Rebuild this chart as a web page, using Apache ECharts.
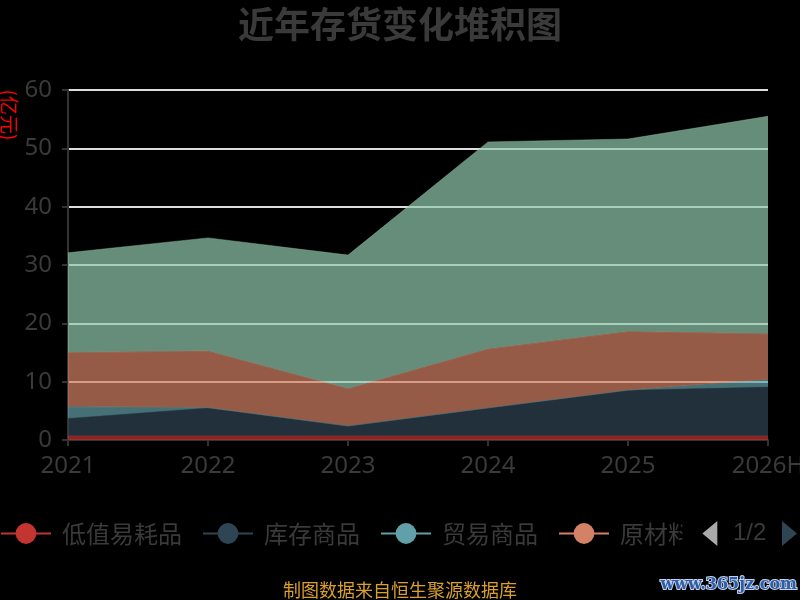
<!DOCTYPE html>
<html>
<head>
<meta charset="utf-8">
<script src="https://cdn.jsdelivr.net/npm/echarts@6/dist/echarts.min.js"></script>
<style>
  html, body { margin: 0; padding: 0; background: #000; }
  #chart { width: 800px; height: 600px; }
</style>
</head>
<body>
<div id="chart"></div>
<script>
// years on the x axis
var years = ['2021', '2022', '2023', '2024', '2025', '2026H'];

// stacked inventory components, 亿元
var seriesNames = ['低值易耗品', '库存商品', '贸易商品', '原材料', '其他'];
var lowValue   = [0.7, 0.7, 0.7, 0.7, 0.7, 0.7];
var stockGoods = [3.0, 4.8, 1.7, 4.8, 7.85, 8.4];
var tradeGoods = [2.0, 0.05, 0, 0, 0, 1.25];
var rawMat     = [9.3, 9.7, 6.4, 10.1, 10.05, 7.85];
var others     = [17.1, 19.4, 22.9, 35.5, 33.0, 37.3];

var colors = ['#c23531', '#2f4554', '#61a0a8', '#d48265', '#91c7ae'];
var txt = '#3a3a3a';

var chart = echarts.init(document.getElementById('chart'));

function makeSeries(name, data) {
    return {
        name: name,
        type: 'line',
        stack: 'total',
        data: data,
        symbol: 'circle',
        showSymbol: false,
        lineStyle: { width: 1, opacity: 0.4 },
        areaStyle: { opacity: 0.7 }
    };
}

chart.setOption({
    backgroundColor: '#000',
    color: colors,
    animation: false,
    title: {
        text: '近年存货变化堆积图',
        left: 'center',
        top: 1,
        textStyle: { color: txt, fontSize: 36, fontWeight: 'bold', fontFamily: 'Noto Sans CJK SC' }
    },
    grid: { left: 68, right: 32, top: 90, bottom: 160, outerBoundsMode: 'none' },
    legend: {
        type: 'scroll',
        left: 0,
        right: 0,
        top: 516,
        padding: [5, 3, 5, 0],
        itemWidth: 50,
        itemHeight: 26,
        itemGap: 20,
        lineStyle: { opacity: 1, width: 2 },
        textStyle: { color: txt, fontSize: 24, fontFamily: 'Noto Sans CJK SC', padding: [0, 0, 0, 6] },
        pageTextStyle: { color: txt, fontSize: 24 },
        pageIconSize: [15, 28],
        pageIconColor: '#2f4554',
        pageIconInactiveColor: '#aaa',
        data: seriesNames
    },
    xAxis: {
        type: 'category',
        data: years,
        boundaryGap: false,
        axisLine: { lineStyle: { color: '#333', width: 2 } },
        axisTick: { lineStyle: { color: '#333', width: 2 }, length: 6 },
        axisLabel: { color: txt, fontSize: 24, margin: 14, fontFamily: 'Noto Sans' }
    },
    yAxis: {
        type: 'value',
        min: 0,
        max: 60,
        interval: 10,
        axisLine: { show: true, lineStyle: { color: '#333', width: 2 } },
        axisTick: { show: true, lineStyle: { color: '#333', width: 2 }, length: 6 },
        axisLabel: { color: txt, fontSize: 24, margin: 16, fontFamily: 'Noto Sans' },
        splitLine: { lineStyle: { color: '#ddd', width: 2 } }
    },
    graphic: [
        {
            type: 'text',
            x: 9, y: 115,
            rotation: -Math.PI / 2,
            style: {
                text: '(亿元)',
                fill: '#ff0000',
                font: '19px "Noto Sans CJK SC"',
                align: 'center',
                verticalAlign: 'middle'
            }
        },
        {
            type: 'text',
            x: 400, y: 590,
            style: {
                text: '制图数据来自恒生聚源数据库',
                fill: '#d9a02c',
                font: '18px "Noto Sans CJK SC"',
                align: 'center',
                verticalAlign: 'middle'
            }
        },
        {
            type: 'text',
            x: 797, y: 585,
            style: {
                text: 'www.365jz.com',
                fill: '#2d5fa8',
                stroke: '#c6d2ec',
                lineWidth: 2,
                font: 'bold 16px "DejaVu Serif"',
                align: 'right',
                verticalAlign: 'middle'
            }
        }
    ],
    series: [
        makeSeries(seriesNames[0], lowValue),
        makeSeries(seriesNames[1], stockGoods),
        makeSeries(seriesNames[2], tradeGoods),
        makeSeries(seriesNames[3], rawMat),
        makeSeries(seriesNames[4], others)
    ]
});
</script>
</body>
</html>
